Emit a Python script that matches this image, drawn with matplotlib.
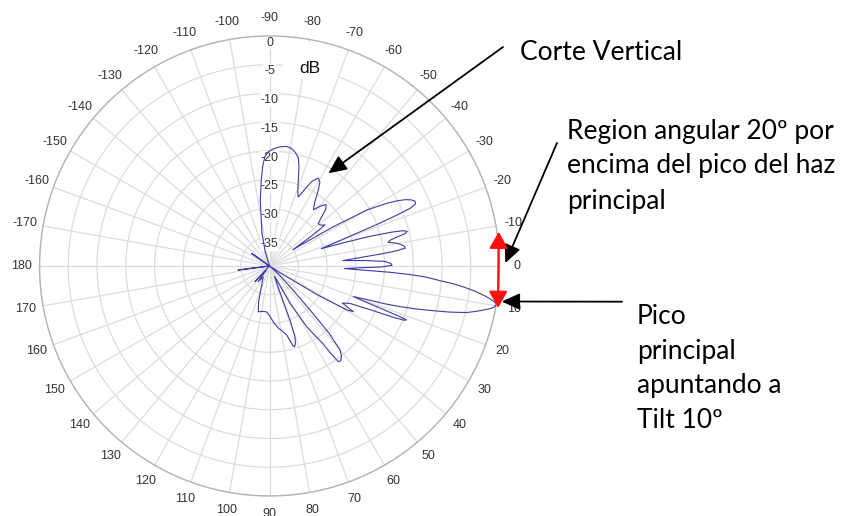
import numpy as np
import matplotlib
matplotlib.use("Agg")
import matplotlib.pyplot as plt
from matplotlib.patches import Rectangle

# Vertical cut of the antenna radiation pattern (angle in degrees, level in dB)
angle_deg = [
    -180, -160, -148, -145, -142, -125, -112, -107,
    -103, -98, -95.5, -94, -92.5, -90.5, -88, -85,
    -82, -79.5, -77, -75, -73.5, -71.5, -69, -67.4,
    -65.5, -63.5, -61, -59, -57.3, -54.5, -52, -50,
    -47.5, -45.5, -43.4, -41, -38.5, -36.5, -35.5, -34.8,
    -33.5, -31.6, -29.9, -28.2, -27, -26, -25, -24,
    -23, -22.3, -21.8, -21.2, -20.5, -19.3, -18.5, -17.4,
    -16.5, -15.5, -14.8, -14.1, -13.4, -12.7, -12, -11.3,
    -10.4, -9.5, -8.3, -7.5, -6.8, -6.2, -5.2, -4.2,
    -3.3, -2.3, -1.2, -0.3, 0.5, 1.2, 2.0, 2.5,
    3.0, 3.5, 4.0, 4.5, 5.0, 5.5, 6.2, 7.0,
    7.5, 8.0, 8.5, 9.0, 9.5, 10.0, 10.5, 11.0,
    11.5, 12.0, 12.5, 13.3, 14.3, 15.3, 16.3, 17.3,
    18.2, 19.0, 20.1, 20.8, 21.2, 21.5, 22.0, 22.6,
    23.5, 25.0, 27.0, 28.6, 29.6, 31.0, 33.0, 36.0,
    42.0, 45.3, 47.4, 48.5, 50.0, 51.5, 53.0, 54.3,
    55.0, 55.5, 57.0, 58.5, 61.2, 64, 68, 69.3,
    70.2, 71.5, 72.7, 73.6, 75, 76, 79, 82,
    86, 89.4, 93.5, 99, 103.8, 107, 110, 120,
    126, 129, 133, 138, 165, 172.7, 176, 180,
]
level_db = [
    -40, -40, -40, -36.2, -40, -40, -40, -37.5,
    -34.1, -28.4, -25, -22.7, -21, -20.1, -19.6, -19.2,
    -19.0, -19.2, -19.8, -20.6, -22, -24.2, -26.3, -27.0,
    -25.5, -23.6, -22.5, -23.0, -24.3, -26.5, -27.6, -26.5,
    -25.5, -26, -27.5, -28.8, -28.6, -28, -31, -35,
    -33, -27, -20.5, -17, -15, -13.7, -12.8, -12.3,
    -12.4, -13.6, -16, -19.5, -24, -28.5, -30.5, -26.5,
    -22, -18, -16, -15.3, -15.8, -17.5, -18.6, -19,
    -17.8, -17, -16.3, -16.2, -17.8, -20.3, -24.5, -27.2,
    -23.5, -20, -18.9, -18.7, -20.5, -24.5, -27.0, -24,
    -19, -15.5, -13, -11.5, -10, -8, -6, -4,
    -3, -2, -1.2, -0.5, 0, -0.1, -0.4, -1,
    -1.8, -2.6, -3.4, -4.8, -7.5, -10.5, -13.3, -16.2,
    -19, -22, -24.5, -20, -16, -14.4, -14.8, -17,
    -21, -24.6, -25.8, -23.4, -24.5, -30, -38, -40,
    -38, -34.9, -29.6, -24.3, -20.9, -19.9, -19.4, -19.5,
    -21.5, -23.6, -25.8, -27.6, -32.6, -38, -36, -30,
    -27, -25.8, -25.3, -25.5, -26.8, -27.6, -28.5, -29.1,
    -30.2, -31.2, -32.0, -32, -31.8, -33.5, -35.5, -37.8,
    -36.6, -39, -36.3, -40, -40, -34.5, -40, -40,
]

theta_ticks = list(range(-170, 190, 10))
theta_labels = [str(a) for a in theta_ticks]
r_ticks = [0, -5, -10, -15, -20, -25, -30, -35, -40]
r_labels = [str(v) for v in r_ticks]

W, H = 848, 516
fig = plt.figure(figsize=(W / 100, H / 100), dpi=100)


def fpx(x, y):
    """Figure fraction from pixel position measured from the top-left."""
    return x / W, 1 - y / H


ax = fig.add_axes([0.0466, 0.0388, 0.5425, 0.8915], projection="polar")
ax.set_theta_zero_location("E")
ax.set_theta_direction(-1)
ax.plot(np.deg2rad(angle_deg), level_db, color="#3c3ca6", lw=0.8, zorder=3)
ax.set_thetamin(-180)
ax.set_thetamax(180)
ax.set_rlim(-40, 0)
ax.set_xticks(np.deg2rad(theta_ticks))
ax.set_xticklabels([])
ax.set_yticks(r_ticks)
ax.set_yticklabels([])
ax.tick_params(length=0)
ax.grid(color="#dcdcdc", lw=0.9)
ax.spines["polar"].set_color("#b4b4b4")
ax.spines["polar"].set_linewidth(1.0)

tick_font = dict(family="Liberation Sans", size=9, color="#333333")
for a, lab in zip(theta_ticks, theta_labels):
    ax.text(np.deg2rad(a), 3.1, lab, ha="center", va="center",
            clip_on=False, **tick_font)
for v, lab in zip(r_ticks, r_labels):
    ax.text(np.deg2rad(-90), v - 1.15, lab, ha="center", va="center",
            zorder=2.2, bbox=dict(fc="white", ec="none", pad=0.6), **tick_font)

# white panel behind the unit label
ax.add_patch(Rectangle((0.529, 0.9065), 0.12, 0.0805, transform=ax.transAxes,
                       fc="white", ec="none", zorder=2.0, clip_on=False))
ax.text(0.588, 0.930, "dB", transform=ax.transAxes, ha="center", va="center",
        family="Liberation Sans", size=12.5, color="#111111", zorder=2.3)

# annotations
txt = dict(family="Lato", size=19, color="black", ha="left", va="center")
fig.text(*fpx(520, 53), "Corte Vertical", **txt)
for i, line in enumerate(["Region angular 20º por", "encima del pico del haz",
                          "principal"]):
    fig.text(*fpx(567, 131 + 35 * i), line, **txt)
for i, line in enumerate(["Pico", "principal", "apuntando a", "Tilt 10º"]):
    fig.text(*fpx(637, 316 + 35 * i), line, **txt)

black_arrow = dict(arrowstyle="-|>,head_length=0.55,head_width=0.25",
                   color="black", lw=1.3, shrinkA=0, shrinkB=0,
                   mutation_scale=20)
ax.annotate("", xy=(np.deg2rad(-57.6), -20.9), xytext=fpx(503, 47),
            textcoords="figure fraction", arrowprops=black_arrow,
            annotation_clip=False)
ax.annotate("", xy=(np.deg2rad(-0.7), 1.0), xytext=fpx(557, 143),
            textcoords="figure fraction", arrowprops=black_arrow,
            annotation_clip=False)
ax.annotate("", xy=(np.deg2rad(8.7), 0.85), xytext=fpx(622, 301.7),
            textcoords="figure fraction", arrowprops=black_arrow,
            annotation_clip=False)

red_arrow = dict(arrowstyle="<|-|>,head_length=0.5,head_width=0.28",
                 color="#ff1010", lw=1.6, shrinkA=0, shrinkB=0,
                 mutation_scale=20)
ax.annotate("", xy=(np.deg2rad(10.4), 0.4), xytext=(np.deg2rad(-8.5), 0.3),
            arrowprops=red_arrow, annotation_clip=False, zorder=4)

fig.savefig("out.png", dpi=100, facecolor="white")
